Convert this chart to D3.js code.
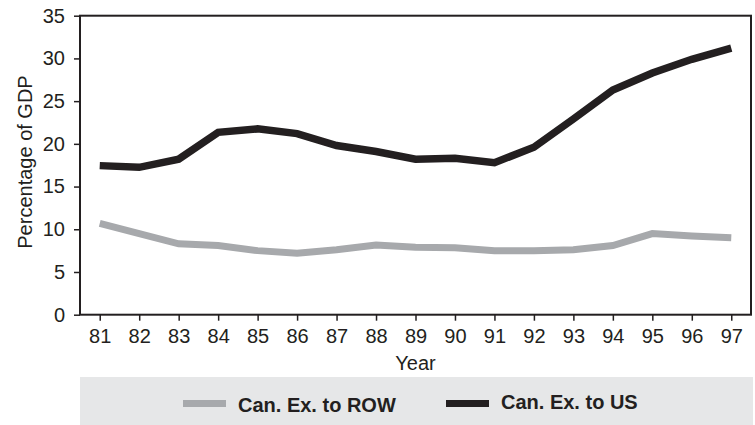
<!DOCTYPE html>
<html>
<head>
<meta charset="utf-8">
<script src="https://cdn.jsdelivr.net/npm/d3@7"></script>
<style>
  body { margin: 0; background: #fff; }
  text { font-family: "Liberation Sans", Arial, sans-serif; fill: #231f20; }
</style>
</head>
<body>
<div class="chart"></div>
<script>
var years = ["81","82","83","84","85","86","87","88","89","90","91","92","93","94","95","96","97"];
var exRow = [10.7, 9.5, 8.3, 8.1, 7.5, 7.2, 7.6, 8.15, 7.9, 7.85, 7.5, 7.5, 7.6, 8.1, 9.5, 9.2, 9.0];
var exUs = [17.45, 17.25, 18.2, 21.35, 21.75, 21.2, 19.8, 19.1, 18.2, 18.3, 17.8, 19.6, 22.9, 26.3, 28.3, 29.9, 31.2];
var yTicks = [0, 5, 10, 15, 20, 25, 30, 35];
var seriesNames = ["Can. Ex. to ROW", "Can. Ex. to US"];

var w = 755, h = 425;
var plotL = 80, plotR = 751, plotT = 15.7, plotB = 314.7;
var ink = "#231f20", grey = "#a7a9ac";

var svg = d3.select('.chart').append('svg')
  .attr('width', w)
  .attr('height', h);

var x = d3.scalePoint().domain(years).range([plotL, plotR]).padding(0.5);
var y = d3.scaleLinear().domain([0, 35]).range([plotB, plotT]);

// frame
svg.append("rect")
  .attr("x", plotL).attr("y", plotT)
  .attr("width", plotR - plotL).attr("height", plotB - plotT)
  .style("fill", "none").style("stroke", ink).style("stroke-width", 2);

var xAxis = svg.append("g")
  .attr("transform", "translate(0," + plotB + ")")
  .call(d3.axisBottom(x).tickSize(6).tickPadding(8));
xAxis.select(".domain").remove();
xAxis.selectAll("line").style("stroke", ink).style("stroke-width", 1.5);
xAxis.selectAll("text").style("font-size", "20px").style("font-family", "Liberation Sans, Arial, sans-serif").attr("fill", ink);

var yAxis = svg.append("g")
  .attr("transform", "translate(" + plotL + ",0)")
  .call(d3.axisLeft(y).tickValues(yTicks).tickSize(6).tickPadding(9));
yAxis.select(".domain").remove();
yAxis.selectAll("line").style("stroke", ink).style("stroke-width", 1.5);
yAxis.selectAll("text").style("font-size", "20px").style("font-family", "Liberation Sans, Arial, sans-serif").attr("fill", ink);

svg.append("text")
  .attr("transform", "translate(32,162) rotate(-90)")
  .attr("text-anchor", "middle")
  .style("font-size", "20px")
  .text("Percentage of GDP");

svg.append("text")
  .attr("x", (plotL + plotR) / 2).attr("y", 370)
  .attr("text-anchor", "middle")
  .style("font-size", "20px")
  .text("Year");

var line = d3.line()
  .x(function(d, i){ return x(years[i]); })
  .y(function(d){ return y(d); });

svg.append("path")
  .datum(exRow)
  .attr("d", line)
  .style("fill", "none").style("stroke", grey)
  .style("stroke-width", 7).style("stroke-linejoin", "miter");

svg.append("path")
  .datum(exUs)
  .attr("d", line)
  .style("fill", "none").style("stroke", ink)
  .style("stroke-width", 7.5).style("stroke-linejoin", "miter");

// legend
svg.append("rect")
  .attr("x", 80).attr("y", 377)
  .attr("width", 673).attr("height", 48)
  .style("fill", "#e6e7e8");

var legend = [
  {name: seriesNames[0], color: grey, x0: 183, base: 411.5},
  {name: seriesNames[1], color: ink, x0: 446, base: 408.5}
];
legend.forEach(function(d){
  svg.append("rect")
    .attr("x", d.x0).attr("y", 400)
    .attr("width", 43).attr("height", 7)
    .style("fill", d.color);
  svg.append("text")
    .attr("x", d.x0 + 55).attr("y", d.base)
    .style("font-size", "20px").style("font-weight", "bold")
    .text(d.name);
});
</script>
</body>
</html>
